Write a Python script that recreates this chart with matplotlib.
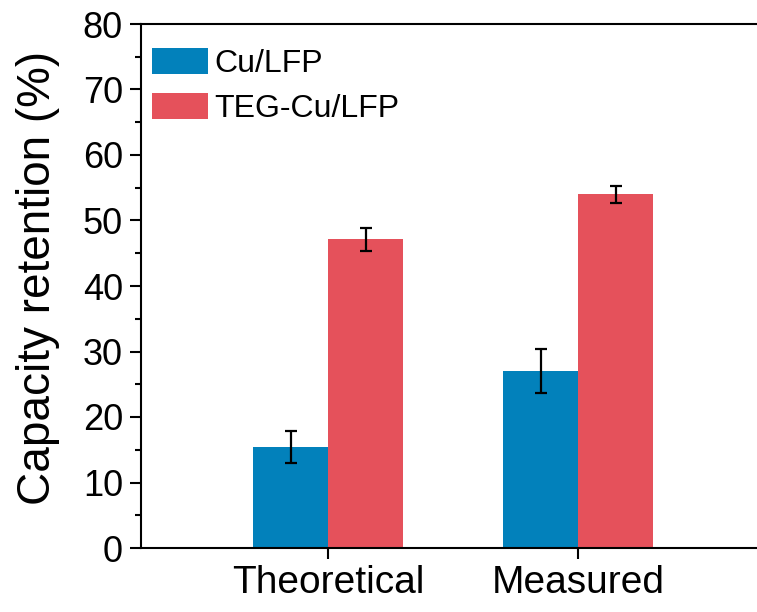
import numpy as np
import matplotlib.pyplot as plt
from matplotlib.ticker import MultipleLocator

plt.rcParams['font.family'] = ['Liberation Sans', 'DejaVu Sans']

groups = ["Theoretical", "Measured"]
series = ["Cu/LFP", "TEG-Cu/LFP"]
cu_lfp = [15.4, 27.0]
cu_lfp_err = [2.4, 3.4]
teg_cu_lfp = [47.1, 54.0]
teg_cu_lfp_err = [1.7, 1.3]

blue = "#0281BB"
red = "#E5515B"

fig = plt.figure(figsize=(7.57, 6.12), dpi=100)
ax = fig.add_axes([141/757, 64/612, 1 - 141/757, 524/612])

x = np.arange(len(groups))
w = 0.3
err_kw = dict(ecolor="black", elinewidth=1.6, capsize=4.5, capthick=1.6)
ax.bar(x - w/2, cu_lfp, w, yerr=cu_lfp_err, color=blue, label=series[0], error_kw=err_kw)
ax.bar(x + w/2, teg_cu_lfp, w, yerr=teg_cu_lfp_err, color=red, label=series[1], error_kw=err_kw)

ax.set_xlim(-0.748, 1.716)
ax.set_ylim(0, 80)
ax.set_xticks(x)
ax.set_xticklabels(groups, fontsize=28)
ax.yaxis.set_major_locator(MultipleLocator(10))
ax.yaxis.set_minor_locator(MultipleLocator(5))
ax.tick_params(axis='y', which='major', labelsize=26, length=8, width=1.5, pad=5)
ax.tick_params(axis='y', which='minor', length=4, width=1.5)
ax.tick_params(axis='x', which='major', length=8, width=1.5, pad=4)
ax.set_ylabel("Capacity retention (%)", fontsize=33)
ax.yaxis.set_label_coords(-0.132, 0.515)

for s in ['left', 'bottom', 'top']:
    ax.spines[s].set_linewidth(1.5)
ax.spines['right'].set_visible(False)

ax.legend(loc='upper left', bbox_to_anchor=(0.018, 0.954), frameon=False, fontsize=23,
          handlelength=1.75, handleheight=0.85, handletextpad=0.2,
          labelspacing=0.45, borderaxespad=0, borderpad=0)

fig.savefig("out.png", dpi=100)
